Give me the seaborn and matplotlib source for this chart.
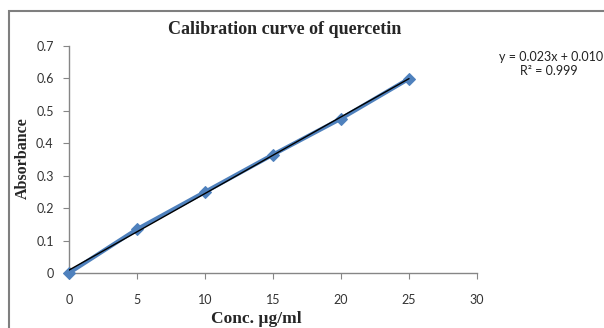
import numpy as np
import pandas as pd
import seaborn as sns
import matplotlib.pyplot as plt
from matplotlib.patches import Rectangle

# data
conc = [0, 5, 10, 15, 20, 25]
absorbance = [0.0, 0.135, 0.25, 0.365, 0.476, 0.599]
x_ticks = [0, 5, 10, 15, 20, 25, 30]
y_ticks = [0, 0.1, 0.2, 0.3, 0.4, 0.5, 0.6, 0.7]
y_tick_labels = ["0", "0.1", "0.2", "0.3", "0.4", "0.5", "0.6", "0.7"]

df = pd.DataFrame({"Conc": conc, "Absorbance": absorbance})

sns.set_style("white")
plt.rcParams['font.family'] = ['Lato', 'DejaVu Sans']

fig = plt.figure(figsize=(6.04, 3.28), dpi=100)
ax = fig.add_axes([69 / 604, 1 - 273 / 328, (477 - 69) / 604, (273 - 46) / 328])

# outer chart frame (cut off at right and bottom like the reference)
fig.patches.append(Rectangle((9 / 604, -0.1), 1.2, 1 - 11 / 328 + 0.1,
                             transform=fig.transFigure, fill=False,
                             edgecolor="#7f7f7f", lw=1.5))

sns.lineplot(data=df, x="Conc", y="Absorbance", ax=ax, color="#4F81BD",
             lw=3, marker="D", markersize=6, markeredgecolor="#4F81BD",
             clip_on=False, zorder=3)

# linear trendline
slope, intercept = np.polyfit(conc, absorbance, 1)
ax.plot([conc[0], conc[-1]], [slope * conc[0] + intercept, slope * conc[-1] + intercept],
        color="black", lw=1, zorder=4)

ax.set_xlim(0, 30)
ax.set_ylim(0, 0.7)
ax.set_xticks(x_ticks)
ax.set_yticks(y_ticks)
ax.set_yticklabels(y_tick_labels)
sns.despine(ax=ax)
for s in ["left", "bottom"]:
    ax.spines[s].set_color("#868686")
    ax.spines[s].set_linewidth(1)
ax.tick_params(axis="x", direction="out", length=4, color="#868686", pad=11,
               labelsize=9, labelcolor="#333333", bottom=True)
ax.tick_params(axis="y", direction="out", length=4, color="#868686", pad=7,
               labelsize=9, labelcolor="#333333", left=True)
ax.set_xlabel("")
ax.set_ylabel("")

serif = ["Liberation Serif", "DejaVu Serif"]
fig.text(285 / 604, 1 - 29 / 328, "Calibration curve of quercetin", ha="center", va="center",
         fontsize=13, fontweight="bold", family=serif)
fig.text(256 / 604, 1 - 319 / 328, "Conc. µg/ml", ha="center", va="center",
         fontsize=12.5, fontweight="bold", family=serif)
fig.text(23 / 604, 1 - 158 / 328, "Absorbance", ha="center", va="center", rotation=90,
         fontsize=11.5, fontweight="bold", family=serif)

fig.text(603 / 604, 1 - 57 / 328, "y = 0.023x + 0.010", ha="right", va="center",
         fontsize=9, color="#222222")
fig.text(549 / 604, 1 - 71 / 328, "R² = 0.999", ha="center", va="center",
         fontsize=9, color="#222222")

fig.savefig("out.png", dpi=100)
